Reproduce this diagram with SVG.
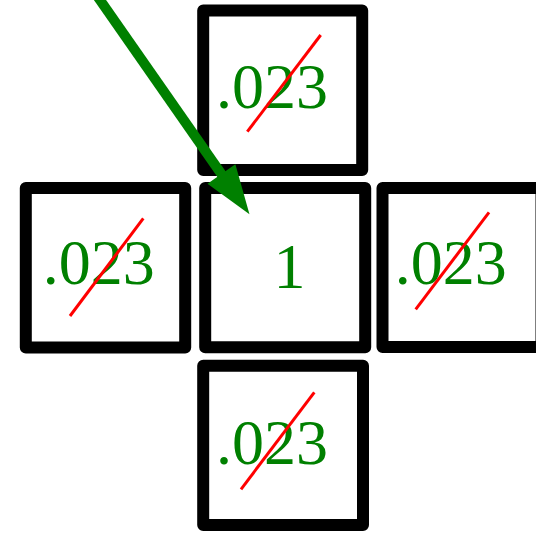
<svg xmlns="http://www.w3.org/2000/svg" width="536" height="534" viewBox="0 0 536 534">
<style>
.box{fill:#fff;stroke:#000;stroke-width:12;stroke-linejoin:round}
.val{font-family:"Liberation Serif","Times New Roman",serif;font-size:64px;fill:#008000}
.cross{stroke:#ff0000;stroke-width:3;fill:none}
.arrow{stroke:#008000;stroke-width:10;fill:none}
</style>
<defs>
<marker id="head" markerUnits="userSpaceOnUse" markerWidth="50" markerHeight="34" viewBox="0 0 49 34" refX="1" refY="17" orient="auto">
<path d="M0,0 L49,17 L0,34 Z" fill="#008000"/>
</marker>
</defs>
<g id="top">
<rect class="box" x="203.2" y="10.5" width="159" height="159.5"/>
<text class="val" x="216" y="107.5">.023</text>
<line class="cross" x1="247.3" y1="131.7" x2="320.7" y2="35"/>
</g>
<g id="left">
<rect class="box" x="25.8" y="188" width="159.4" height="159.5"/>
<text class="val" x="42.8" y="284">.023</text>
<line class="cross" x1="70" y1="316" x2="143.3" y2="218.3"/>
</g>
<g id="center">
<rect class="box" x="205.2" y="188" width="160" height="159.3"/>
<text class="val" x="273.6" y="288">1</text>
</g>
<g id="right">
<rect class="box" x="382.5" y="188" width="159" height="159"/>
<text class="val" x="394.8" y="284">.023</text>
<line class="cross" x1="415.7" y1="309.3" x2="489" y2="212.3"/>
</g>
<g id="bottom">
<rect class="box" x="203.2" y="365.8" width="159.8" height="159.2"/>
<text class="val" x="216" y="464">.023</text>
<line class="cross" x1="241" y1="489.3" x2="314.3" y2="392.3"/>
</g>
<g id="connectors">
<line class="arrow" x1="93" y1="-10" x2="222" y2="174.8" marker-end="url(#head)"/>
</g>
</svg>
